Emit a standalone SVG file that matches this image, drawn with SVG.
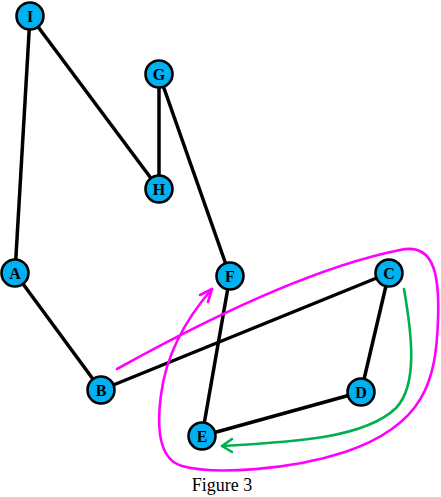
<svg xmlns="http://www.w3.org/2000/svg" width="441" height="497" viewBox="0 0 441 497">
<style>
.edge{stroke:#000;stroke-width:3.5;fill:none}
.node circle{fill:#00b0f0;stroke:#000;stroke-width:2.6}
.node text{font-family:"Liberation Serif","Times New Roman",serif;font-weight:bold;font-size:16px;text-anchor:middle;fill:#000}
.mag{stroke:#ff00ff;stroke-width:2.6;fill:none;stroke-linecap:round;stroke-linejoin:round}
.grn{stroke:#00b050;stroke-width:2.6;fill:none;stroke-linecap:round;stroke-linejoin:round}
.cap{font-family:"Liberation Serif","Times New Roman",serif;font-size:18px;text-anchor:middle;fill:#000}
</style>
<rect width="441" height="497" fill="#fff"/>
<g id="connectors">
<line class="edge" x1="30" y1="16" x2="15" y2="273"/>
<line class="edge" x1="30" y1="16" x2="159" y2="189"/>
<line class="edge" x1="159" y1="74" x2="159" y2="189"/>
<line class="edge" x1="159" y1="74" x2="230" y2="276"/>
<line class="edge" x1="15" y1="273" x2="101" y2="390"/>
<line class="edge" x1="101" y1="390" x2="389" y2="273"/>
<line class="edge" x1="230" y1="276" x2="202" y2="436"/>
<line class="edge" x1="389" y1="273" x2="361" y2="392"/>
<line class="edge" x1="361" y1="392" x2="202" y2="436"/>
</g>
<g id="annotations">
<path class="mag" d="M117,369 C 180,334 300,270 400,250 C 432,243 440,270 438,320 C 436,380 425,425 345,452 C 290,470 215,475 182,466 C 158,459 157,425 161,395 C 166,355 185,320 212,289"/>
<path class="mag" d="M200,295 L212,289 L208,302"/>
<path class="grn" d="M404,289 C 412,335 418,385 396,408 C 365,438 295,442 222,446"/>
<path class="grn" d="M232,439 L222,446 L232,452"/>
</g>
<g id="node-I" class="node"><circle cx="30" cy="16" r="13.5"/><text x="30" y="21.5">I</text></g>
<g id="node-G" class="node"><circle cx="159" cy="74" r="13.5"/><text x="159" y="79.5">G</text></g>
<g id="node-H" class="node"><circle cx="159" cy="189" r="13.5"/><text x="159" y="194.5">H</text></g>
<g id="node-A" class="node"><circle cx="15" cy="273" r="13.5"/><text x="15" y="278.5">A</text></g>
<g id="node-F" class="node"><circle cx="230" cy="276" r="13.5"/><text x="230" y="281.5">F</text></g>
<g id="node-C" class="node"><circle cx="389" cy="273" r="13.5"/><text x="389" y="278.5">C</text></g>
<g id="node-B" class="node"><circle cx="101" cy="390" r="13.5"/><text x="101" y="395.5">B</text></g>
<g id="node-D" class="node"><circle cx="361" cy="392" r="13.5"/><text x="361" y="397.5">D</text></g>
<g id="node-E" class="node"><circle cx="202" cy="436" r="13.5"/><text x="202" y="441.5">E</text></g>
<text class="cap" x="222" y="490.5">Figure 3</text>
</svg>
